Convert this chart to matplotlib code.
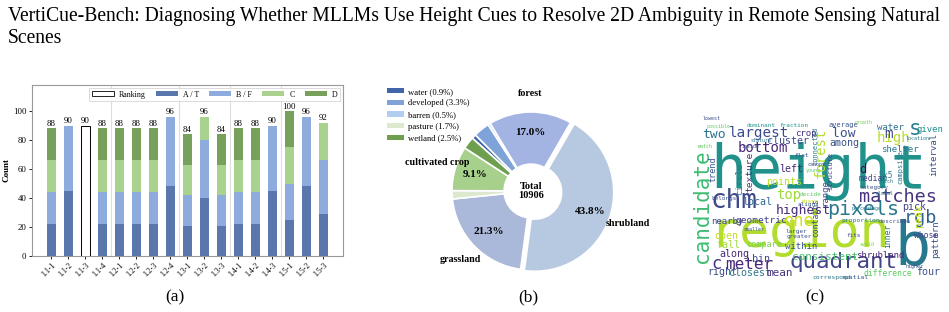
import matplotlib
matplotlib.use("Agg")
import matplotlib.pyplot as plt
from matplotlib.patches import Patch
import numpy as np

plt.rcParams['font.family'] = ['Liberation Serif', 'DejaVu Serif']

W, H = 949, 312

# ---------------- data: panel (a) ----------------
tasks = ['1.1-1', '1.1-2', '1.1-3', '1.1-4', '1.2-1', '1.2-2', '1.2-3', '1.2-4',
         '1.3-1', '1.3-2', '1.3-3', '1.4-1', '1.4-2', '1.4-3', '1.5-1', '1.5-2', '1.5-3']
ranking = [0, 0, 90, 0, 0, 0, 0, 0, 0, 0, 0, 0, 0, 0, 0, 0, 0]
a_t = [22, 45, 0, 22, 22, 22, 22, 48, 21, 40, 21, 22, 22, 45, 25, 48, 29]
b_f = [22, 45, 0, 22, 22, 22, 22, 48, 21, 40, 21, 22, 22, 45, 25, 48, 37]
c_v = [22, 0, 0, 22, 22, 22, 22, 0, 21, 16, 21, 22, 22, 0, 25, 0, 26]
d_v = [22, 0, 0, 22, 22, 22, 22, 0, 21, 0, 21, 22, 22, 0, 25, 0, 0]
group_sizes = [4, 4, 3, 3, 3]

# ---------------- data: panel (b) ----------------
land = ['water', 'developed', 'barren', 'forest', 'shrubland', 'grassland',
        'pasture', 'cultivated crop', 'wetland']
land_pct = [0.9, 3.3, 0.5, 17.0, 43.8, 21.3, 1.7, 9.1, 2.5]
total_count = 10906
legend_classes = ['water', 'developed', 'barren', 'pasture', 'wetland']
labeled_classes = ['forest', 'shrubland', 'grassland', 'cultivated crop']

# ---------------- data: panel (c) word cloud ----------------
words = ['height', 'region', 'b', 'candidate', 'chm', 'quadrant', 'pixels', 'matches', 'rgb',
         's', 'high', 'low', 'm', 'forest', 'two', 'largest', 'bottom', 'top', 'one', 'highest',
         'cluster', 'crop', 'left', 'points', 'texture', 'circle', 'trend', 'local', 'nearby',
         'geometric', 'open', 'fall', 'compare', 'within', 'along', 'bin', 'c', 'meter', 'right',
         'closest', 'mean', 'consistent', 'among', 'water', 'average', 'given', 'shelter',
         'interval', 'd', 'campsite', 'structure', 'connected', 'median', '5x5', 'range', 'pick',
         'peak', 'pattern', 'contains', 'inner', 'whose', 'shrubland', 'four', 'difference',
         'spatial', 'correspond', 'proportion', 'describes', 'percentage', 'category', 'fits',
         'location', 'possible', 'dominant', 'fraction', 'stature', 'inside', 'flat', 'match',
         'belongs', 'decide', 'share', 'larger', 'greater', 'aligns', 'patch', 'growth', 'canopy',
         'young', 'smaller', 'global', 'avoid', 'higher', 'lowest']
word_size = [60, 50, 60, 21, 26, 22.5, 20, 18.5, 18.5,
             21, 14, 13, 14, 14, 13, 14.3, 14, 14, 17, 13,
             10, 9, 10, 10, 9.5, 9, 8.5, 10, 9,
             9.5, 10, 10, 8.5, 9, 10, 10, 17, 16, 10,
             10, 11, 11, 10, 9, 7, 9, 9,
             9, 12, 7, 7, 7, 8, 8, 9, 10,
             10, 9, 8, 8, 8, 9, 10, 8,
             6.5, 6.5, 6.5, 6, 5, 6, 6,
             5, 5, 6, 6, 5, 5, 6, 5,
             6, 6, 6, 6, 6, 6, 5, 5, 5,
             5, 5, 5, 5, 5, 5]
word_color = ['#21918c', '#b2dd2d', '#26788e', '#3fbc73', '#3e4a89', '#414487', '#2a788e', '#46327e', '#33638d',
              '#287c8e', '#b8de29', '#3b528b', '#414487', '#b5de2b', '#2c728e', '#3a4b8c', '#482677', '#a0da39', '#cde11d', '#472c7a',
              '#3e4989', '#46337e', '#482878', '#b5de2b', '#46337e', '#2a788e', '#3b528b', '#31688e', '#3e4989',
              '#414487', '#c2df23', '#a0da39', '#7ad151', '#3b528b', '#482878', '#3e4989', '#46337e', '#482878', '#3b528b',
              '#2a788e', '#46337e', '#4ac16d', '#3b528b', '#2c728e', '#3b528b', '#21918c', '#2a788e',
              '#3b528b', '#440154', '#2a788e', '#414487', '#2a788e', '#414487', '#2a788e', '#3b528b', '#414487',
              '#c8e020', '#3b528b', '#3b528b', '#2c728e', '#414487', '#482878', '#3b528b', '#5ec962',
              '#3b528b', '#2a788e', '#2a788e', '#3b528b', '#2a788e', '#3b528b', '#414487',
              '#2a788e', '#5ec962', '#21918c', '#21918c', '#2a788e', '#3b528b', '#3b528b', '#5ec962',
              '#3b528b', '#5ec962', '#c8e020', '#3b528b', '#3b528b', '#3b528b', '#2a788e', '#7ad151', '#3b528b',
              '#5ec962', '#3b528b', '#2a788e', '#7ad151', '#3b528b', '#3b528b']
# layout of the cloud (pixel positions: x, baseline y, rotation)
word_layout = [(710, 188, 0), (709, 247, 0), (894, 265, 0), (708, 263, 90), (711, 208, 0), (790, 268, 0),
               (827, 215, 0), (859, 202, 0), (904, 223, 0),
               (909, 135, 0), (877, 142, 0), (832, 137, 0), (884, 138, 0), (825, 178, 90), (702, 138, 0),
               (729, 137, 0), (738, 152, 0), (776, 199, 0), (784, 226, 0), (776, 214, 0),
               (767, 144, 0), (795, 136, 0), (779, 172, 0), (766, 185, 0), (752, 192, 90), (742, 195, 90),
               (715, 182, 90), (742, 205, 0), (711, 224, 0),
               (735, 223, 0), (714, 239, 0), (716, 248, 0), (746, 247, 0), (785, 249, 0), (719, 257, 0),
               (752, 262, 0), (711, 269, 0), (725, 269, 0), (707, 275, 0),
               (729, 276, 0), (766, 276, 0), (792, 260, 0), (829, 146, 0), (877, 130, 0), (829, 127, 0),
               (917, 132, 0), (881, 152, 0),
               (936, 176, 90), (859, 173, 0), (902, 184, 90), (832, 190, 90), (817, 165, 90), (859, 181, 0),
               (879, 178, 0), (827, 206, 90), (902, 210, 0),
               (922, 228, 90), (938, 258, 90), (818, 237, 90), (890, 248, 90), (914, 238, 0), (856, 258, 0),
               (916, 275, 0), (864, 276, 0),
               (841, 279, 0), (812, 279, 0), (841, 222, 0), (879, 223, 0), (852, 210, 0), (859, 189, 0),
               (846, 237, 0),
               (906, 140, 0), (707, 128, 0), (747, 127, 0), (779, 127, 0), (751, 142, 0), (742, 148, 0),
               (794, 157, 0), (698, 148, 0),
               (711, 200, 0), (800, 196, 0), (800, 203, 0), (785, 233, 0), (787, 238, 0), (798, 206, 0),
               (879, 183, 0), (855, 124, 0), (808, 166, 0),
               (806, 172, 0), (744, 231, 0), (876, 195, 0), (860, 246, 0), (906, 268, 0), (703, 120, 0)]

fig = plt.figure(figsize=(W / 100, H / 100), dpi=100)


def fx(px):
    return px / W


def fy(py):
    return 1 - py / H


# ---------------- title ----------------
fig.text(fx(8), fy(20.7), "VertiCue-Bench: Diagnosing Whether MLLMs Use Height Cues to Resolve 2D "
         "Ambiguity in Remote Sensing Natural", fontsize=14.1, va='baseline', ha='left')
fig.text(fx(8), fy(43.3), "Scenes", fontsize=14.1, va='baseline', ha='left')

# ---------------- panel (a) ----------------
col_a, col_b, col_c, col_d = '#5a77ad', '#8dabdd', '#a9d28f', '#77a05b'
ax = fig.add_axes([fx(32), fy(256), fx(343) - fx(32), fy(85) - fy(256)])
x = np.arange(len(tasks))
bw = 0.55
ax.bar(x, ranking, bw, color='white', edgecolor='black', linewidth=0.7, zorder=3)
bottom = np.zeros(len(tasks))
for vals, col in [(a_t, col_a), (b_f, col_b), (c_v, col_c), (d_v, col_d)]:
    vals = np.array(vals, dtype=float)
    ax.bar(x, vals, bw, bottom=bottom, color=col, edgecolor='none', zorder=3)
    bottom += vals
totals = bottom + np.array(ranking)
for xi, t in zip(x, totals):
    ax.text(xi, t + 0.3, f"{int(t)}", ha='center', va='bottom', fontsize=6.3, zorder=4)
# group separators
edges = np.cumsum(group_sizes)[:-1] - 0.5
for e in edges:
    ax.axvline(e, color='#dddddd', linewidth=0.8, zorder=1)
ax.set_xlim(-1.13, len(tasks) - 1 + 1.15)
ax.set_ylim(0, 118)
ax.set_yticks([0, 20, 40, 60, 80, 100])
ax.set_xticks(x)
ax.set_xticklabels(tasks, rotation=45, ha='right', rotation_mode='anchor', fontsize=5.6)
ax.tick_params(axis='y', labelsize=6.3, length=2.5, width=0.6, pad=1.5)
ax.tick_params(axis='x', length=2, width=0.6, pad=1.5)
ax.set_ylabel('Count', fontsize=6.5, fontweight='bold', labelpad=2)
for sp in ax.spines.values():
    sp.set_color('#999999')
    sp.set_linewidth(0.8)
handles = [Patch(facecolor='white', edgecolor='black', linewidth=0.6),
           Patch(facecolor=col_a), Patch(facecolor=col_b), Patch(facecolor=col_c), Patch(facecolor=col_d)]
leg = ax.legend(handles, ['Ranking', 'A / T', 'B / F', 'C', 'D'], loc='upper right', ncol=5,
                fontsize=5.7, frameon=True, fancybox=False, edgecolor='#cccccc',
                handlelength=2.8, handleheight=0.6, columnspacing=1.3, borderpad=0.35,
                handletextpad=0.6, borderaxespad=0.35)
leg.get_frame().set_linewidth(0.6)

# ---------------- panel (b) ----------------
land_colors = {'water': '#3f66a8', 'developed': '#7fa2d8', 'barren': '#b3cdf0', 'forest': '#a3b4e3',
               'shrubland': '#b7c9e1', 'grassland': '#aab9d9', 'pasture': '#dce9cf',
               'cultivated crop': '#a7d08c', 'wetland': '#6e9f4f'}
cx, cy, R = 531, 191, 79
axb = fig.add_axes([fx(380), fy(290), fx(690) - fx(380), fy(80) - fy(290)])
explode = [0.05 if n == 'shrubland' else 0 for n in land]
wedges, _ = axb.pie(land_pct, colors=[land_colors[n] for n in land], startangle=138,
                    counterclock=False, radius=1, explode=explode,
                    wedgeprops=dict(width=0.66, edgecolor='white', linewidth=1.2))
axb.set_xlim((380 - cx) / R, (690 - cx) / R)
axb.set_ylim(-(290 - cy) / R, (cy - 80) / R)
axb.set_aspect('auto')
axb.axis('off')
for name, pct, wdg in zip(land, land_pct, wedges):
    if name in labeled_classes:
        ang = np.deg2rad((wdg.theta1 + wdg.theta2) / 2)
        c0 = wdg.center
        axb.text(c0[0] + 0.74 * np.cos(ang), c0[1] + 0.74 * np.sin(ang), f"{pct:.1f}%",
                 ha='center', va='center', fontsize=8, fontweight='bold')
        axb.text(c0[0] + 1.24 * np.cos(ang), c0[1] + 1.24 * np.sin(ang), name,
                 ha='center', va='center', fontsize=7.2, fontweight='bold')
axb.text(0, 0, f"Total\n{total_count}", ha='center', va='center', fontsize=7.5, fontweight='bold',
         linespacing=1.0)
lh = [Patch(facecolor=land_colors[n]) for n in legend_classes]
ll = [f"{n} ({land_pct[land.index(n)]:.1f}%)" for n in legend_classes]
fig.legend(lh, ll, loc='upper left', bbox_to_anchor=(fx(386), fy(87)), frameon=False,
           fontsize=6.2, handlelength=2.0, handleheight=0.55, labelspacing=0.42,
           handletextpad=0.5, borderpad=0.1, borderaxespad=0)

# ---------------- panel (c): word cloud ----------------
axc = fig.add_axes([0, 0, 1, 1], zorder=5)
axc.set_xlim(0, W)
axc.set_ylim(H, 0)
axc.axis('off')
axc.patch.set_alpha(0)
for wd, sz, colr, (px, py, rot) in zip(words, word_size, word_color, word_layout):
    axc.text(px, py, wd, fontsize=sz * 0.72, color=colr, family='DejaVu Sans Mono',
             rotation=rot, rotation_mode='anchor', ha='left', va='baseline')

# ---------------- captions ----------------
for lab, px in [('(a)', 175), ('(b)', 528), ('(c)', 815)]:
    fig.text(fx(px), fy(301), lab, fontsize=12.5, ha='center', va='baseline')

fig.savefig('out.png', dpi=100)
